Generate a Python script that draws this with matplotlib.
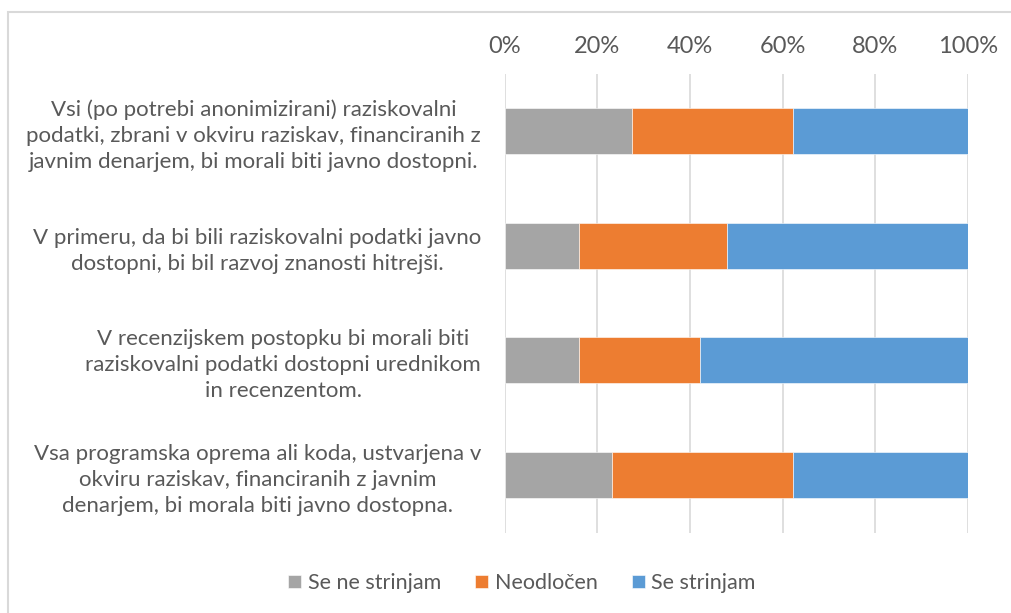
import numpy as np
import matplotlib.pyplot as plt
from matplotlib.patches import Rectangle
from matplotlib.ticker import PercentFormatter

trditve = [
    "Vsi (po potrebi anonimizirani) raziskovalni\npodatki, zbrani v okviru raziskav, financiranih z\njavnim denarjem, bi morali biti javno dostopni.",
    "V primeru, da bi bili raziskovalni podatki javno\ndostopni, bi bil razvoj znanosti hitrejši.",
    "V recenzijskem postopku bi morali biti\nraziskovalni podatki dostopni urednikom\nin recenzentom.",
    "Vsa programska oprema ali koda, ustvarjena v\nokviru raziskav, financiranih z javnim\ndenarjem, bi morala biti javno dostopna.",
]
se_ne_strinjam = [27.5, 16.0, 16.0, 23.1]
neodlocen = [34.8, 32.0, 26.2, 39.2]
se_strinjam = [37.7, 52.0, 57.8, 37.7]
serije = ["Se ne strinjam", "Neodločen", "Se strinjam"]
barve = ["#A5A5A5", "#ED7D31", "#5B9BD5"]

plt.rcParams['font.family'] = ['Lato', 'DejaVu Sans']
siva = "#595959"

fig = plt.figure(figsize=(10.12, 6.13), dpi=100)
ax = fig.add_axes([504.7 / 1012, 1 - 532.5 / 613, (968 - 504.7) / 1012, (532.5 - 73.5) / 613])

# okvir grafa (desni in spodnji rob sta odrezana)
fig.patches.append(Rectangle((8 / 1012, -0.1), 1.2, 1 - 12 / 613 + 0.1,
                             transform=fig.transFigure, fill=False,
                             edgecolor="#d9d9d9", linewidth=1.5))

y = np.arange(len(trditve))
levo = np.zeros(len(trditve))
for vrednosti, ime, barva in zip([se_ne_strinjam, neodlocen, se_strinjam], serije, barve):
    ax.barh(y, vrednosti, left=levo, height=0.4, color=barva, label=ime,
            edgecolor="white", linewidth=0.4, zorder=3)
    levo += np.array(vrednosti)

ax.set_xlim(0, 100)
ax.set_ylim(len(trditve) - 0.5, -0.5)
ax.set_xticks(np.arange(0, 101, 20))
ax.xaxis.set_major_formatter(PercentFormatter(decimals=0))
ax.xaxis.tick_top()
ax.tick_params(axis='x', length=0, pad=12, labelsize=17, labelcolor=siva)
ax.set_yticks(y)
ax.set_yticklabels(trditve, fontsize=16, color=siva, multialignment='center', linespacing=1.38)
ax.tick_params(axis='y', length=0, pad=17)
ax.grid(axis='x', color="#d9d9d9", linewidth=1.2, zorder=0)
for s in ax.spines.values():
    s.set_visible(False)

fig.legend(loc='center', bbox_to_anchor=(522 / 1012, 1 - 583 / 613), ncol=3,
           frameon=False, handlelength=0.6, handleheight=0.6, handletextpad=0.3,
           columnspacing=1.6, fontsize=15.5, labelcolor=siva)

plt.savefig("out.png", dpi=100)
